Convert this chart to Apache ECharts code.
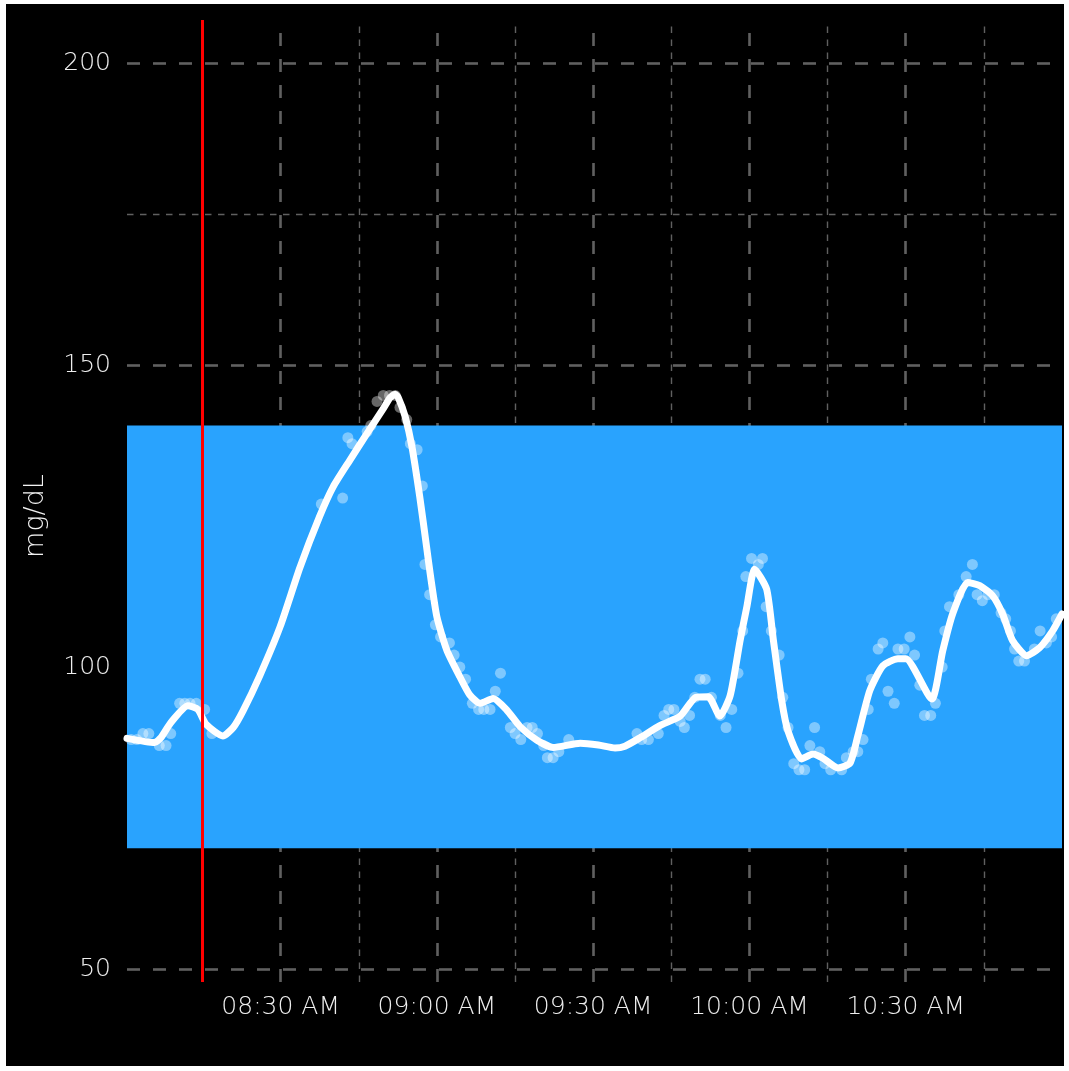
<!DOCTYPE html>
<html><head><meta charset="utf-8">
<script src="https://cdn.jsdelivr.net/npm/echarts@6/dist/echarts.min.js"></script>
<style>
html,body{margin:0;padding:0;background:#ffffff;}
#c{position:absolute;left:6px;top:4px;width:1058px;height:1062px;}
</style>
</head><body><div id="c"></div>
<script>
// x values are minutes after 08:00
const X_MIN = 0.5, X_MAX = 180;
const Y_MIN = 47.85, Y_MAX = 207.17;
const xTickMinutes = [30, 60, 90, 120, 150];
const xTickLabels = ['08:30 AM', '09:00 AM', '09:30 AM', '10:00 AM', '10:30 AM'];
const xMinorMinutes = [15, 45, 75, 105, 135, 165];
const yTicks = [50, 100, 150, 200];
const yMinorTicks = [75, 125, 175];
const targetLow = 70, targetHigh = 140;
const eventMinute = 15;

const readingMinutes = [1.3,2.4,3.55,4.7,6.7,8.0,8.9,10.6,11.6,12.6,13.8,15.4,16.8,
  37.8,41.9,42.9,43.7,46.6,47.3,48.5,49.7,50.9,52.0,52.9,54.2,54.9,56.2,57.2,57.7,58.6,59.7,60.7,62.4,63.3,64.4,65.5,66.8,68.0,69.0,70.2,71.2,72.2,74.1,75.0,76.1,77.3,78.3,79.3,80.5,81.2,82.3,83.4,85.3,
  98.4,99.3,100.6,102.5,103.6,104.5,105.5,106.7,107.5,108.5,109.5,110.5,111.5,112.7,114.4,115.5,116.6,117.8,118.7,119.3,120.4,121.7,122.5,123.2,124.2,125.7,126.4,127.4,128.5,129.5,130.6,131.6,132.5,133.5,134.5,135.6,137.7,138.6,139.9,140.8,141.8,142.8,143.4,144.7,145.6,146.6,147.8,148.5,149.7,150.8,151.7,152.7,153.6,154.8,155.7,157.0,157.5,158.4,160.2,161.6,162.8,163.7,164.7,165.8,167.0,168.3,169.2,170.1,170.9,171.7,172.8,174.7,175.8,177.0,178.0,178.9];
const readingValues = [88,88,89,89,87,87,89,94,94,94,94,93,89,
  127,128,138,137,139,140,144,145,145,145,143,141,137,136,130,117,112,107,105,104,102,100,98,94,93,93,93,96,99,90,89,88,90,90,89,87,85,85,86,88,
  89,88,88,89,92,93,93,91,90,92,95,98,98,95,92,90,93,99,106,115,118,117,118,110,106,102,95,90,84,83,83,87,90,86,84,83,83,85,86,86,88,93,98,103,104,96,94,103,103,105,102,97,92,92,94,100,106,110,112,115,117,112,111,112,112,109,108,106,103,101,101,103,106,104,105,108];

const fitMinutes = [0.5,5.8,7.0,8.9,12.2,14.1,15.7,18.9,20.9,22.8,26.0,29.9,33.7,37.5,40.1,43.3,46.5,49.7,51.0,52.0,52.6,53.9,55.2,56.7,58.0,58.7,60.0,61.9,64.4,66.3,68.3,70.8,73.4,76.0,79.2,82.3,87.5,91.0,94.2,96.1,99.0,102.8,106.7,109.7,112.1,114.3,116.3,118.2,119.5,121.0,123.3,124.6,126.2,127.4,130.0,132.2,134.1,137.0,139.3,140.8,143.1,145.6,148.5,150.0,155.0,157.1,159.0,161.9,164.2,166.7,168.6,170.5,173.2,175.7,178.2,180];
const fitValues = [88.2,87.5,88.3,90.8,93.6,93.0,90.5,88.6,90.0,92.8,98.6,106.7,116.5,125,129.9,134.3,138.6,142.8,144.6,145.2,144.6,141.5,136.5,128.2,120,115.5,108.3,102.8,98.4,95.4,94,94.8,92.9,90.1,87.9,86.7,87.4,87.1,86.6,86.9,88.3,90.3,91.9,95,95.1,91.9,95.3,104.4,110,116.2,112.9,104.4,94.4,89.4,84.8,85.6,84.9,83.3,84.1,88.6,96.1,100.2,101.4,101.4,94.7,102.7,108.8,114,113.5,111.8,108.8,104.4,101.9,103.2,106,108.8];

const readings = readingMinutes.map((m, i) => [m, readingValues[i]]);
const fit = fitMinutes.map((m, i) => [m, fitValues[i]]);

const vLine = m => [{coord: [m, Y_MIN]}, {coord: [m, Y_MAX]}];
const hLine = v => [{coord: [X_MIN, v]}, {coord: [X_MAX, v]}];

const FONT = "'DejaVu Sans', 'Noto Sans', sans-serif";
const labelColor = '#eeeeee';
const gridColor = '#606060';

const chart = echarts.init(document.getElementById('c'), null, {renderer: 'canvas'});
chart.setOption({
  backgroundColor: '#000000',
  animation: false,
  grid: {left: 121, right: 2, top: 16, bottom: 84, containLabel: false},
  xAxis: {
    type: 'value', min: X_MIN, max: X_MAX,
    axisLine: {show: false}, axisTick: {show: false}, splitLine: {show: false},
    axisLabel: {
      customValues: xTickMinutes,
      margin: 13, color: labelColor, fontSize: 25, fontFamily: FONT, fontWeight: 300,
      formatter: v => { const i = xTickMinutes.indexOf(v); return i >= 0 ? xTickLabels[i] : ''; }
    }
  },
  yAxis: {
    type: 'value', min: Y_MIN, max: Y_MAX,
    name: 'mg/dL', nameLocation: 'middle', nameGap: 78, nameRotate: 90,
    nameTextStyle: {color: '#f2f2f2', fontSize: 27, fontFamily: FONT, fontWeight: 300, padding: [0, 30, 0, 0]},
    axisLine: {show: false}, axisTick: {show: false}, splitLine: {show: false},
    axisLabel: {
      customValues: yTicks,
      margin: 16, color: labelColor, fontSize: 25, fontFamily: FONT, fontWeight: 300,
      formatter: v => yTicks.indexOf(v) >= 0 ? String(v) : ''
    }
  },
  series: [
    {
      name: 'gridMinor', type: 'line', data: [], z: 1, silent: true,
      markLine: {
        z: 1, silent: true, symbol: ['none', 'none'], label: {show: false}, animation: false,
        lineStyle: {color: gridColor, width: 1.4, type: [6.5, 6.5], dashOffset: 0},
        emphasis: {disabled: true},
        data: xMinorMinutes.map(vLine).concat(yMinorTicks.map(hLine))
      }
    },
    {
      name: 'gridMajor', type: 'line', data: [], z: 1, silent: true,
      markLine: {
        z: 1, silent: true, symbol: ['none', 'none'], label: {show: false}, animation: false,
        lineStyle: {color: gridColor, width: 2.6, type: [13, 13], dashOffset: 0},
        emphasis: {disabled: true},
        data: xTickMinutes.map(vLine).concat(yTicks.map(hLine))
      }
    },
    {
      name: 'target', type: 'line', data: [], z: 2, silent: true,
      markArea: {
        z: 2, silent: true, animation: false,
        itemStyle: {color: '#29a3fe', opacity: 1},
        emphasis: {disabled: true},
        data: [[{yAxis: targetLow}, {yAxis: targetHigh}]]
      }
    },
    {
      name: 'readings', type: 'scatter', data: readings, z: 4, silent: true,
      symbol: 'circle', symbolSize: 11,
      itemStyle: {color: 'rgba(255,255,255,0.5)'}
    },
    {
      name: 'fit', type: 'line', data: fit, z: 5, silent: true,
      smooth: 0.2, showSymbol: false, symbol: 'none',
      lineStyle: {color: '#ffffff', width: 7, cap: 'round', join: 'round'}
    },
    {
      name: 'event', type: 'line', data: [], z: 6, silent: true,
      markLine: {
        z: 6, silent: true, symbol: ['none', 'none'], label: {show: false}, animation: false,
        lineStyle: {color: '#ff0000', width: 3, type: 'solid'},
        emphasis: {disabled: true},
        data: [[{coord: [eventMinute, Y_MIN]}, {coord: [eventMinute, Y_MAX]}]]
      }
    }
  ]
});
</script>
</body></html>
